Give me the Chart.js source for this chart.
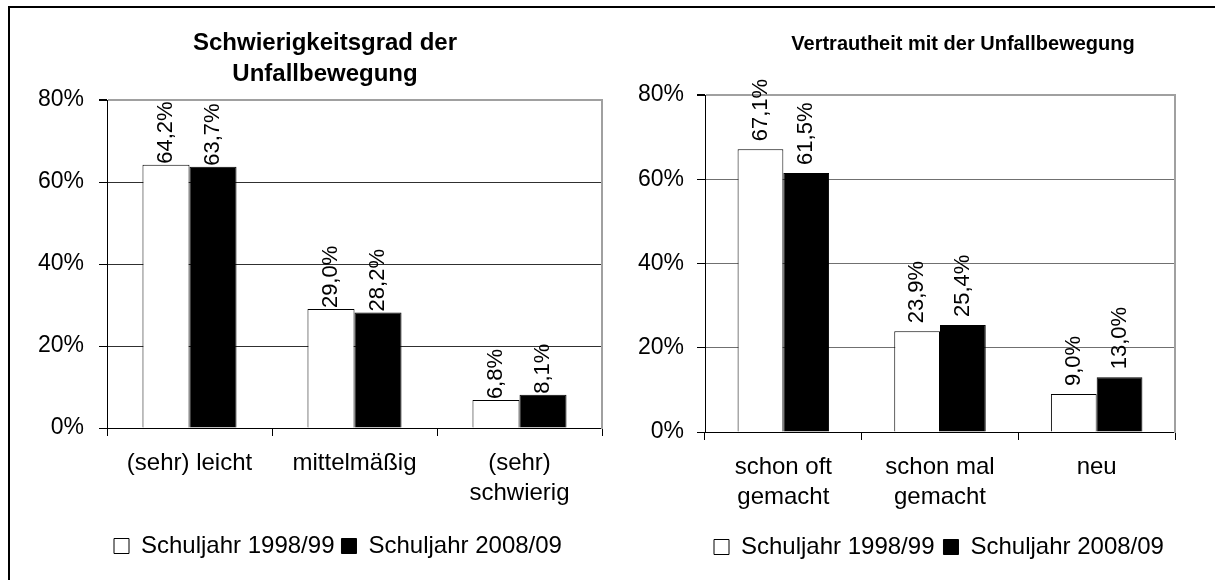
<!DOCTYPE html>
<html><head><meta charset="utf-8">
<script src="https://cdn.jsdelivr.net/npm/chart.js@4.4.1/dist/chart.umd.min.js"></script>
<style>
html,body{margin:0;padding:0;background:#fff;width:1215px;height:580px;overflow:hidden;position:relative}
#frame{position:absolute;left:8px;top:6px;width:1300px;height:700px;border-left:2px solid #000;border-top:2px solid #000;}
#c1wrap{position:absolute;left:0;top:0;width:640px;height:580px}
#c2wrap{position:absolute;left:620px;top:0;width:720px;height:580px}
</style></head>
<body>
<div id="frame"></div>
<div id="c1wrap"><canvas id="c1"></canvas></div>
<div id="c2wrap"><canvas id="c2"></canvas></div>
<script>
// ---- data ----
const seriesNames = ['Schuljahr 1998/99', 'Schuljahr 2008/09'];
const yTicks = [0, 20, 40, 60, 80];

const title1 = ['Schwierigkeitsgrad der', 'Unfallbewegung'];
const categories1 = [['(sehr) leicht'], ['mittelmäßig'], ['(sehr)', 'schwierig']];
const values1998_1 = [64.2, 29.0, 6.8];
const values2008_1 = [63.7, 28.2, 8.1];

const title2 = 'Vertrautheit mit der Unfallbewegung';
const categories2 = [['schon oft', 'gemacht'], ['schon mal', 'gemacht'], ['neu']];
const values1998_2 = [67.1, 23.9, 9.0];
const values2008_2 = [61.5, 25.4, 13.0];

// ---- rendering ----
const F = "'Liberation Sans', Arial, sans-serif";

const barLabelPlugin = {
  id: 'barLabels',
  afterDatasetsDraw(chart, args, opts) {
    const ctx = chart.ctx;
    ctx.save();
    ctx.fillStyle = '#000';
    ctx.font = '22px ' + F;
    ctx.textAlign = 'left';
    ctx.textBaseline = 'middle';
    chart.data.datasets.forEach((ds, di) => {
      const meta = chart.getDatasetMeta(di);
      meta.data.forEach((bar, i) => {
        const txt = ds.data[i].toFixed(1).replace('.', ',') + '%';
        ctx.save();
        ctx.translate(bar.x, bar.y - opts.gap);
        ctx.rotate(-Math.PI / 2);
        ctx.fillText(txt, 0, 0);
        ctx.restore();
      });
    });
    ctx.restore();
  }
};

function makeChart(id, cfg) {
  return new Chart(document.getElementById(id), {
    type: 'bar',
    data: {
      labels: cfg.labels,
      datasets: [
        { label: seriesNames[0], data: cfg.a, backgroundColor: '#ffffff', borderColor: '#000000', borderWidth: 1,
          categoryPercentage: cfg.catPct, barPercentage: 1 },
        { label: seriesNames[1], data: cfg.b, backgroundColor: '#000000', borderColor: '#000000', borderWidth: 1,
          categoryPercentage: cfg.catPct, barPercentage: 1 }
      ]
    },
    options: {
      responsive: true, maintainAspectRatio: false, animation: false, devicePixelRatio: 1,
      layout: { padding: cfg.padding },
      plugins: {
        title: { display: true, text: cfg.title, color: '#000',
          font: { family: F, size: cfg.titleSize, weight: 'bold', lineHeight: cfg.titleLH },
          padding: cfg.titlePad },
        legend: { position: 'bottom', align: 'start', fullSize: false,
          labels: { color: '#000', font: { family: F, size: 24 }, boxWidth: 15, boxHeight: 15, padding: cfg.legendPad } },
        tooltip: { enabled: false },
        barLabels: { gap: cfg.labelGap }
      },
      scales: {
        x: {
          type: 'category', offset: true,
          grid: { display: true, drawOnChartArea: false, drawTicks: true, tickLength: 8, tickColor: '#000', offset: true },
          border: { display: true, color: '#000', width: 1 },
          ticks: { color: '#000', font: { family: F, size: 24, lineHeight: 1.25 }, padding: 12, maxRotation: 0, minRotation: 0, autoSkip: false },
          afterFit: s => { s.height = cfg.xH; }
        },
        y: {
          min: yTicks[0], max: yTicks[yTicks.length - 1],
          afterBuildTicks: s => { s.ticks = yTicks.map(v => ({ value: v })); },
          ticks: { callback: v => v + '%', color: '#000', font: { family: F, size: 23 }, padding: cfg.yPad },
          grid: {
            color: c => (c.tick && c.tick.value === yTicks[yTicks.length - 1]) ? '#a0a0a0' : cfg.gridColor,
            lineWidth: c => (c.tick && c.tick.value === yTicks[yTicks.length - 1]) ? 2 : 1,
            tickColor: '#000', tickLength: 8
          },
          border: { display: true, color: '#000', width: 1 },
          afterFit: s => { s.width = cfg.yW; }
        },
        yR: {
          position: 'right', display: true, min: 0, max: 80,
          grid: { display: false },
          ticks: { display: false },
          border: { display: true, color: '#a0a0a0', width: 2 },
          afterFit: s => { s.width = cfg.rW; }
        }
      }
    },
    plugins: [barLabelPlugin]
  });
}

makeChart('c1', {
  labels: categories1, a: values1998_1, b: values2008_1, title: title1,
  titleSize: 24, titleLH: 1.3, titlePad: { top: 27.4, bottom: 10.2 },
  padding: { left: 30, right: 20, top: 0, bottom: 12 },
  yW: 77, yPad: 15, rW: 18, xH: 99, legendPad: 7,
  catPct: 0.57, labelGap: 1, gridColor: '#303030'
});

makeChart('c2', {
  labels: categories2, a: values1998_2, b: values2008_2, title: title2,
  titleSize: 20, titleLH: 1.2, titlePad: { top: 32, bottom: 39 },
  padding: { left: 14, right: 48, top: 0, bottom: 11 },
  yW: 71, yPad: 13, rW: 117, xH: 94, legendPad: 9,
  catPct: 0.584, labelGap: 8, gridColor: '#707070'
});
</script>
</body></html>
